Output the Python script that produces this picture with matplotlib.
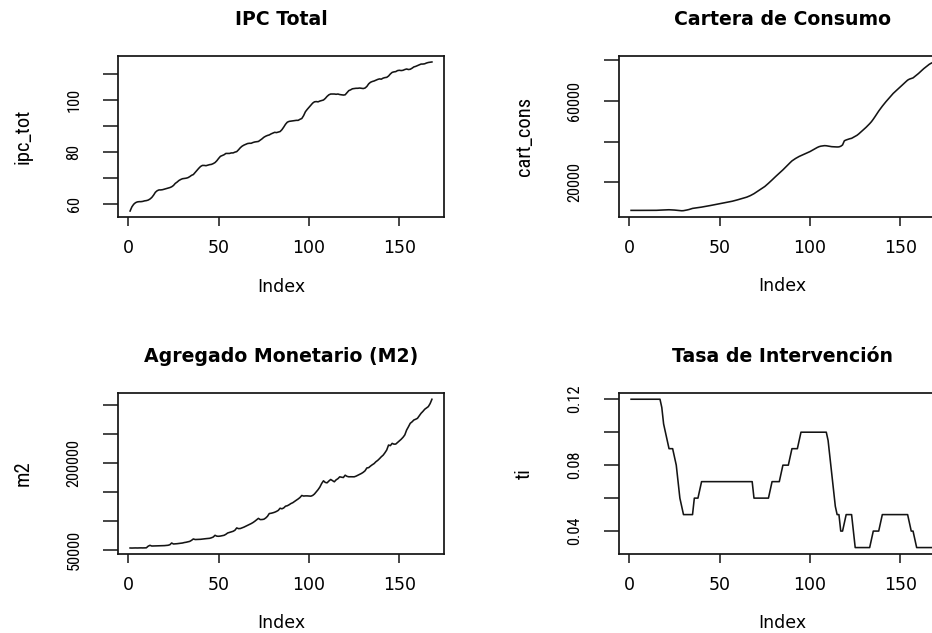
import numpy as np
import matplotlib
matplotlib.use("Agg")
import matplotlib.pyplot as plt
from matplotlib import font_manager as fm
from matplotlib.textpath import TextPath

# ---------------- data (monthly, Index 1..168) ----------------
index = np.arange(1, 169)

ipc_tot = [
    57.4, 59.0, 60.0, 60.6, 60.9, 61.0, 61.0, 61.1, 61.3, 61.4, 61.6, 62.0,
    62.6, 63.5, 64.6, 65.2, 65.5, 65.5, 65.6, 65.8, 66.0, 66.2, 66.4, 66.7,
    67.2, 68.0, 68.5, 69.1, 69.5, 69.8, 69.9, 70.0, 70.2, 70.6, 71.1, 71.4,
    72.2, 73.0, 73.8, 74.5, 74.9, 74.9, 74.8, 75.0, 75.2, 75.3, 75.6, 76.0,
    76.7, 77.6, 78.4, 78.7, 79.0, 79.5, 79.5, 79.5, 79.7, 79.7, 80.0, 80.2,
    80.9, 81.7, 82.3, 82.7, 83.0, 83.3, 83.4, 83.4, 83.7, 83.9, 84.0, 84.1,
    84.6, 85.1, 85.7, 86.1, 86.4, 86.6, 87.0, 87.3, 87.6, 87.5, 87.7, 87.9,
    88.6, 89.6, 90.7, 91.5, 91.8, 91.9, 92.0, 92.1, 92.2, 92.2, 92.6, 92.9,
    94.0, 95.5, 96.4, 97.2, 98.0, 98.8, 99.3, 99.4, 99.3, 99.6, 99.8, 100.0,
    100.6, 101.4, 102.0, 102.3, 102.3, 102.3, 102.2, 102.3, 102.1, 102.0, 101.9, 102.0,
    102.8, 103.6, 103.9, 104.3, 104.4, 104.5, 104.5, 104.6, 104.5, 104.4, 104.6, 105.2,
    106.2, 106.8, 107.1, 107.3, 107.6, 107.9, 108.1, 108.0, 108.4, 108.6, 108.7, 109.2,
    110.0, 110.6, 110.8, 110.9, 111.3, 111.4, 111.3, 111.4, 111.7, 111.9, 111.7, 111.8,
    112.2, 112.7, 112.9, 113.2, 113.5, 113.8, 113.8, 113.9, 114.2, 114.4, 114.5, 114.6,
]

cart_cons = [
    6290, 6280, 6290, 6280, 6290, 6290, 6290, 6300, 6290, 6290, 6300, 6310,
    6300, 6310, 6320, 6350, 6400, 6450, 6500, 6600, 6620, 6600, 6560, 6500,
    6450, 6350, 6250, 6150, 6100, 6150, 6300, 6500, 6700, 7000, 7260, 7380,
    7500, 7620, 7760, 7900, 8050, 8200, 8360, 8530, 8700, 8870, 9040, 9200,
    9380, 9550, 9700, 9860, 10020, 10190, 10370, 10580, 10790, 11010, 11250, 11500,
    11750, 12000, 12250, 12520, 12800, 13150, 13550, 14000, 14500, 15100, 15650, 16250,
    16850, 17450, 18040, 18800, 19600, 20400, 21250, 22120, 22950, 23750, 24600, 25400,
    26200, 27100, 28000, 28900, 29750, 30600, 31200, 31800, 32300, 32800, 33200, 33600,
    34000, 34400, 34800, 35200, 35700, 36200, 36700, 37200, 37600, 37850, 38000, 38100,
    38050, 37900, 37750, 37600, 37550, 37500, 37450, 37500, 37800, 38450, 40500, 40900,
    41200, 41500, 41700, 42200, 42700, 43200, 43900, 44700, 45500, 46300, 47100, 48000,
    48900, 49900, 51100, 52400, 53800, 55100, 56300, 57500, 58600, 59700, 60700, 61700,
    62700, 63750, 64600, 65400, 66200, 67000, 67850, 68700, 69500, 70300, 70800, 71100,
    71400, 72100, 72800, 73550, 74400, 75200, 76000, 76700, 77400, 78100, 78600, 79000,
]

m2 = [
    52900, 52800, 52900, 53000, 52900, 53000, 53100, 53000, 53100, 53200, 56000, 57500,
    56300, 56400, 56500, 56600, 56700, 56800, 56900, 57000, 57300, 57600, 58500, 61500,
    59800, 60000, 60300, 60700, 61100, 61500, 62300, 62800, 63500, 64300, 66100, 68500,
    67500, 67600, 67700, 67900, 68300, 68700, 69000, 69300, 69600, 70500, 71800, 74800,
    73300, 73100, 73500, 74200, 74800, 76500, 78800, 79800, 80800, 81700, 83500, 87500,
    86300, 86500, 87600, 88900, 90400, 91800, 93200, 95000, 96800, 99000, 101500, 104000,
    101900, 102000, 102500, 104500, 107500, 112300, 112800, 113600, 114600, 116000, 117800, 121500,
    120500, 122000, 125000, 125800, 127500, 129600, 131000, 133300, 135400, 137500, 140000, 143500,
    142500, 142800, 142800, 142500, 142300, 143500, 146000, 149800, 153500, 158000, 164200, 168800,
    166000, 165300, 168500, 171100, 169000, 167100, 170500, 172500, 175700, 175000, 174500, 178500,
    176500, 175700, 175800, 175700, 175700, 176800, 178300, 179800, 181500, 183500, 186100, 191000,
    191500, 194200, 196500, 198500, 201700, 204000, 207000, 210300, 213000, 217200, 222000, 230500,
    229500, 233400, 232000, 232200, 235000, 238000, 240500, 243800, 248000, 256400, 262000, 268000,
    270500, 273700, 275000, 276600, 281000, 285300, 288500, 292200, 294500, 296800, 302000, 309500,
]

ti = [
    0.12, 0.12, 0.12, 0.12, 0.12, 0.12, 0.12, 0.12, 0.12, 0.12, 0.12, 0.12,
    0.12, 0.12, 0.12, 0.12, 0.12, 0.115, 0.105, 0.10, 0.095, 0.09, 0.09, 0.09,
    0.085, 0.08, 0.07, 0.06, 0.055, 0.05, 0.05, 0.05, 0.05, 0.05, 0.05, 0.06,
    0.06, 0.06, 0.065, 0.07, 0.07, 0.07, 0.07, 0.07, 0.07, 0.07, 0.07, 0.07,
    0.07, 0.07, 0.07, 0.07, 0.07, 0.07, 0.07, 0.07, 0.07, 0.07, 0.07, 0.07,
    0.07, 0.07, 0.07, 0.07, 0.07, 0.07, 0.07, 0.07, 0.06, 0.06, 0.06, 0.06,
    0.06, 0.06, 0.06, 0.06, 0.06, 0.065, 0.07, 0.07, 0.07, 0.07, 0.07, 0.075,
    0.08, 0.08, 0.08, 0.08, 0.085, 0.09, 0.09, 0.09, 0.09, 0.095, 0.10, 0.10,
    0.10, 0.10, 0.10, 0.10, 0.10, 0.10, 0.10, 0.10, 0.10, 0.10, 0.10, 0.10,
    0.10, 0.095, 0.085, 0.075, 0.065, 0.055, 0.05, 0.05, 0.04, 0.04, 0.045, 0.05,
    0.05, 0.05, 0.05, 0.04, 0.03, 0.03, 0.03, 0.03, 0.03, 0.03, 0.03, 0.03,
    0.03, 0.035, 0.04, 0.04, 0.04, 0.04, 0.045, 0.05, 0.05, 0.05, 0.05, 0.05,
    0.05, 0.05, 0.05, 0.05, 0.05, 0.05, 0.05, 0.05, 0.05, 0.05, 0.045, 0.04,
    0.04, 0.035, 0.03, 0.03, 0.03, 0.03, 0.03, 0.03, 0.03, 0.03, 0.03, 0.03,
]

titles = ["IPC Total", "Cartera de Consumo", "Agregado Monetario (M2)", "Tasa de Intervención"]
ylabels = ["ipc_tot", "cart_cons", "m2", "ti"]
xlabel = "Index"
x_ticks = [0, 50, 100, 150]
x_ticklabels = ["0", "50", "100", "150"]

ipc_ticks = [60, 70, 80, 90, 100, 110]
ipc_ticklabels = ["60", "", "80", "", "100", ""]
cart_ticks = [20000, 40000, 60000, 80000]
cart_ticklabels = ["20000", "", "60000", ""]
m2_ticks = [50000, 100000, 150000, 200000, 250000, 300000]
m2_ticklabels = ["50000", "", "", "200000", "", ""]
ti_ticks = [0.04, 0.06, 0.08, 0.10, 0.12]
ti_ticklabels = ["0.04", "", "0.08", "", "0.12"]

# ---------------- fonts ----------------
hfam = "DejaVu Sans"
P = 0.72  # px -> pt at 100 dpi


def pick_narrow_font():
    prefs = ["liberation sans narrow", "arial narrow", "dejavu sans condensed",
             "roboto condensed", "open sans condensed", "noto sans"]
    found = []
    for f in fm.fontManager.ttflist:
        n = f.name.lower()
        if f.style != "normal":
            continue
        w = f.weight if isinstance(f.weight, int) else 400
        if w != 400:
            continue
        if "mono" in n or "serif" in n or "cjk" in n:
            continue
        narrow = ("narrow" in n or "condensed" in n or
                  f.stretch in ("condensed", "semi-condensed", "extra-condensed")
                  or "condensed" in f.fname.lower())
        if not narrow:
            continue
        rank = len(prefs)
        for i, p in enumerate(prefs):
            if n.startswith(p):
                rank = i
                break
        found.append((rank, f.fname))
    if found:
        found.sort()
        return fm.FontProperties(fname=found[0][1])
    return fm.FontProperties(family="DejaVu Sans")


vprop = pick_narrow_font()


def fit_size(prop, text, target_len_px, target_h_px, slack=1.18):
    tp = TextPath((0, 0), text, size=10, prop=prop).get_extents()
    len_pt = target_len_px * P / (tp.width / 10.0)
    h_pt = target_h_px * P / (tp.height / 10.0)
    return min(h_pt, slack * len_pt)


vtick_size = fit_size(vprop, "00000", 40, 12)
vlab_size = fit_size(vprop, "cart_cons", 68, 15)

# ---------------- figure ----------------
W, H = 932, 633
fig = plt.figure(figsize=(W / 100, H / 100), dpi=100)
fig.patch.set_facecolor("white")
ink = "#141414"

# panel boxes in pixels: left, top, right, bottom
boxes = [
    (118, 56.0, 444, 217.0),
    (619, 56.5, 945, 216.7),
    (118, 393.3, 444, 554.0),
    (619, 393.3, 945, 553.5),
]
series = [ipc_tot, cart_cons, m2, ti]
yticks = [ipc_ticks, cart_ticks, m2_ticks, ti_ticks]
yticklabels = [ipc_ticklabels, cart_ticklabels, m2_ticklabels, ti_ticklabels]

for k in range(4):
    l, t, r, b = boxes[k]
    ax = fig.add_axes([l / W, 1 - b / H, (r - l) / W, (b - t) / H])
    ax.plot(index, series[k], color=ink, lw=1.15)
    ax.margins(x=0.04, y=0.04)
    for s in ax.spines.values():
        s.set_linewidth(1.25)
        s.set_color(ink)
    ax.set_xticks(x_ticks)
    ax.set_xticklabels(x_ticklabels)
    ax.set_yticks(yticks[k])
    ax.set_yticklabels(yticklabels[k])
    ax.tick_params(axis="x", direction="out", length=9 * P, width=1.1,
                   color=ink, pad=27 * P, labelsize=12.5)
    ax.tick_params(axis="y", direction="out", length=15 * P, width=1.1,
                   color=ink, pad=24.5 * P)
    for lab in ax.get_xticklabels():
        lab.set_fontfamily(hfam)
        lab.set_va("baseline")
    for lab in ax.get_yticklabels():
        lab.set_fontproperties(vprop)
        lab.set_fontsize(vtick_size)
        lab.set_rotation(90)
        lab.set_rotation_mode("anchor")
        lab.set_ha("center")
        lab.set_va("baseline")
    ax.set_title(titles[k], fontsize=13.6, fontweight="bold", family=hfam,
                 pad=31 * P, color="black")
    xc = (l + r) / 2
    fig.text(xc / W, 1 - (b + 74.5) / H, xlabel, ha="center", va="baseline",
             fontsize=12.5, family=hfam)
    yl = fig.text((l - 89) / W, 1 - ((t + b) / 2) / H, ylabels[k], rotation=90,
                  rotation_mode="anchor", ha="center", va="baseline")
    yl.set_fontproperties(vprop)
    yl.set_fontsize(vlab_size)

fig.savefig("out.png", dpi=100, facecolor="white")
